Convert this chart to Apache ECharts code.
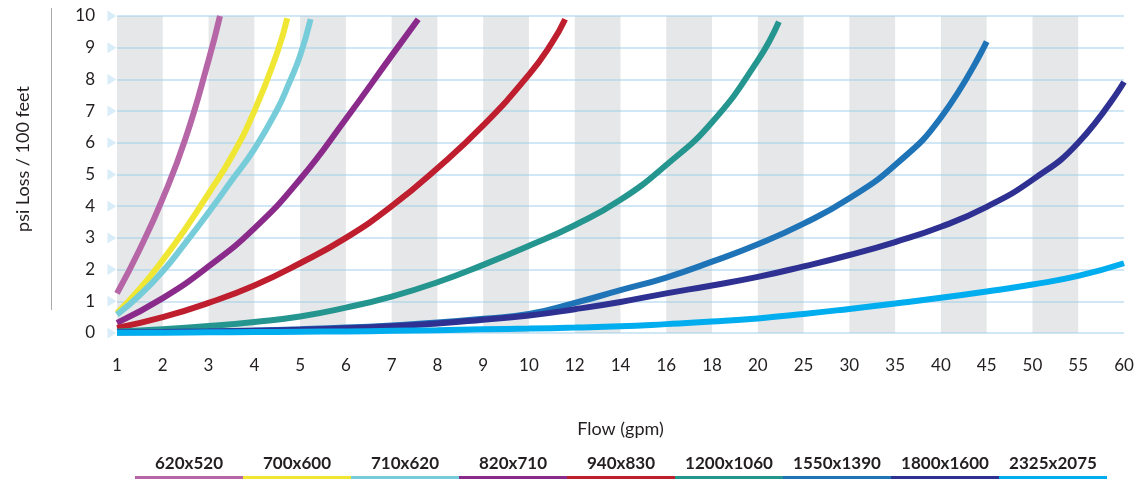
<!DOCTYPE html>
<html>
<head>
<meta charset="utf-8">
<script src="https://cdn.jsdelivr.net/npm/echarts@6/dist/echarts.min.js"></script>
<style>
html,body{margin:0;padding:0;background:#fff;}
#chart{width:1141px;height:480px;}
</style>
</head>
<body>
<div id="chart"></div>
<script>
// ---- data ----
const xTicks = [1,2,3,4,5,6,7,8,9,10,12,14,16,18,20,25,30,35,40,45,50,55,60];
const yTicks = [0,1,2,3,4,5,6,7,8,9,10];
const seriesNames = ['620x520','700x600','710x620','820x710','940x830','1200x1060','1550x1390','1800x1600','2325x2075'];
const seriesColors = ['#b666a6','#efe733','#76cdd9','#8a2b8b','#be1e2d','#25958f','#1f74b8','#2e3192','#00adee'];

// [flow (gpm), psi loss / 100 ft]
const s620x520 = [[1,1.25],[1.5,2.65],[2,4.25],[2.5,6.15],[3,8.6],[3.25,10]];
const s700x600 = [[1,0.63],[1.5,1.4],[2,2.3],[2.5,3.3],[3,4.4],[3.5,5.55],[4,7.0],[4.5,8.85],[4.72,9.93]];
const s710x620 = [[1,0.58],[1.5,1.2],[2,1.95],[2.5,2.85],[3,3.8],[3.5,4.8],[4,5.8],[4.5,7.05],[4.75,7.85],[5,8.75],[5.23,9.9]];
const s820x710 = [[1,0.32],[2,1.1],[3,2.1],[4,3.3],[5,4.85],[6,6.75],[7,8.75],[7.58,9.9]];
const s940x830 = [[1,0.16],[2,0.5],[3,0.95],[4,1.5],[5,2.2],[6,3.0],[7,4.0],[8,5.2],[9,6.55],[10,8.15],[11,9.15],[11.58,9.9]];
const s1200x1060 = [[1,0.05],[2,0.12],[3,0.22],[4,0.35],[5,0.52],[6,0.8],[7,1.15],[8,1.6],[9,2.15],[10,2.75],[12,3.4],[14,4.2],[16,5.3],[18,6.65],[20,8.6],[22.3,9.82]];
const s1550x1390 = [[1,0.02],[2,0.03],[3,0.05],[4,0.08],[5,0.12],[6,0.17],[7,0.24],[8,0.33],[9,0.45],[10,0.6],[12,0.95],[14,1.35],[16,1.75],[18,2.25],[20,2.8],[25,3.45],[30,4.25],[35,5.3],[40,6.8],[45,9.19]];
const s1800x1600 = [[1,0.02],[2,0.03],[3,0.045],[4,0.07],[5,0.1],[6,0.15],[7,0.21],[8,0.3],[9,0.42],[10,0.55],[12,0.75],[14,0.98],[16,1.25],[18,1.5],[20,1.77],[25,2.1],[30,2.46],[35,2.87],[40,3.35],[45,3.98],[50,4.83],[55,6.0],[60,7.92]];
const s2325x2075 = [[1,0.01],[2,0.01],[3,0.02],[4,0.03],[5,0.04],[6,0.05],[7,0.07],[8,0.09],[9,0.12],[10,0.14],[12,0.17],[14,0.21],[16,0.28],[18,0.36],[20,0.46],[25,0.6],[30,0.76],[35,0.93],[40,1.11],[45,1.31],[50,1.53],[55,1.8],[60,2.2]];
const seriesData = [s620x520,s700x600,s710x620,s820x710,s940x830,s1200x1060,s1550x1390,s1800x1600,s2325x2075];

// ---- helpers ----
// the x axis is spaced evenly by tick label; map a flow value onto that tick scale
function flowToPos(f){
  for (let i = 0; i < xTicks.length - 1; i++){
    if (f <= xTicks[i+1]) return i + (f - xTicks[i]) / (xTicks[i+1] - xTicks[i]);
  }
  return xTicks.length - 1;
}

const FONT = 'Lato, "Open Sans", sans-serif';
const TXT = '#231f20';

const chart = echarts.init(document.getElementById('chart'), null, {renderer:'canvas'});

const lineSeries = seriesNames.map((name, i) => ({
  name: name,
  type: 'line',
  data: seriesData[i].map(p => [flowToPos(p[0]), p[1]]),
  showSymbol: false,
  smooth: 0.5,
  lineStyle: {width: 6, color: seriesColors[i], cap: 'butt'},
  itemStyle: {color: seriesColors[i]},
  z: 3,
  silent: true
}));

const tickMarks = {
  name: 'gridMarks',
  type: 'scatter',
  data: yTicks.map(v => [-0.11, v]),
  symbol: 'triangle',
  symbolRotate: -90,
  symbolSize: [11, 9],
  itemStyle: {color: '#cfe8f6'},
  clip: false,
  silent: true,
  z: 1
};

const legendW = 108, legendLeft = 135;
const legendGraphics = [];
seriesNames.forEach((name, i) => {
  legendGraphics.push({
    type: 'text',
    x: legendLeft + legendW * i + legendW / 2,
    y: 464,
    style: {text: name, fill: TXT, font: 'bold 17px ' + FONT, align: 'center', verticalAlign: 'middle'}
  });
  legendGraphics.push({
    type: 'rect',
    shape: {x: legendLeft + legendW * i, y: 476, width: legendW, height: 3},
    style: {fill: seriesColors[i]}
  });
});

const option = {
  animation: false,
  backgroundColor: '#fff',
  grid: {left: 117, right: 17, top: 16, bottom: 147, containLabel: false},
  xAxis: {
    type: 'value',
    min: 0,
    max: xTicks.length - 1,
    interval: 1,
    z: 0,
    name: 'Flow (gpm)',
    nameLocation: 'middle',
    nameGap: 87,
    nameTextStyle: {fontSize: 18, color: TXT, fontFamily: FONT},
    axisLine: {show: false},
    axisTick: {show: false},
    axisLabel: {
      margin: 24,
      fontSize: 17,
      color: TXT,
      fontFamily: FONT,
      formatter: v => (xTicks[Math.round(v)] !== undefined ? String(xTicks[Math.round(v)]) : '')
    },
    splitLine: {show: false},
    splitArea: {show: true, areaStyle: {color: ['#e6e7e8', 'rgba(255,255,255,0)']}}
  },
  yAxis: {
    type: 'value',
    min: 0,
    max: 10,
    interval: 1,
    z: 1,
    axisLine: {show: false},
    axisTick: {show: false},
    axisLabel: {margin: 22, fontSize: 17, color: TXT, fontFamily: FONT},
    splitLine: {show: true, lineStyle: {color: 'rgba(150,205,235,0.45)', width: 2}}
  },
  graphic: [
    {
      type: 'text',
      x: 23, y: 159,
      rotation: Math.PI / 2,
      style: {text: 'psi Loss / 100 feet', fill: TXT, font: '18px ' + FONT, align: 'center', verticalAlign: 'middle'}
    },
    {
      type: 'line',
      shape: {x1: 51.5, y1: 8, x2: 51.5, y2: 310},
      style: {stroke: '#a7a9ac', lineWidth: 1}
    }
  ].concat(legendGraphics),
  series: [tickMarks].concat(lineSeries)
};

chart.setOption(option);
</script>
</body>
</html>
